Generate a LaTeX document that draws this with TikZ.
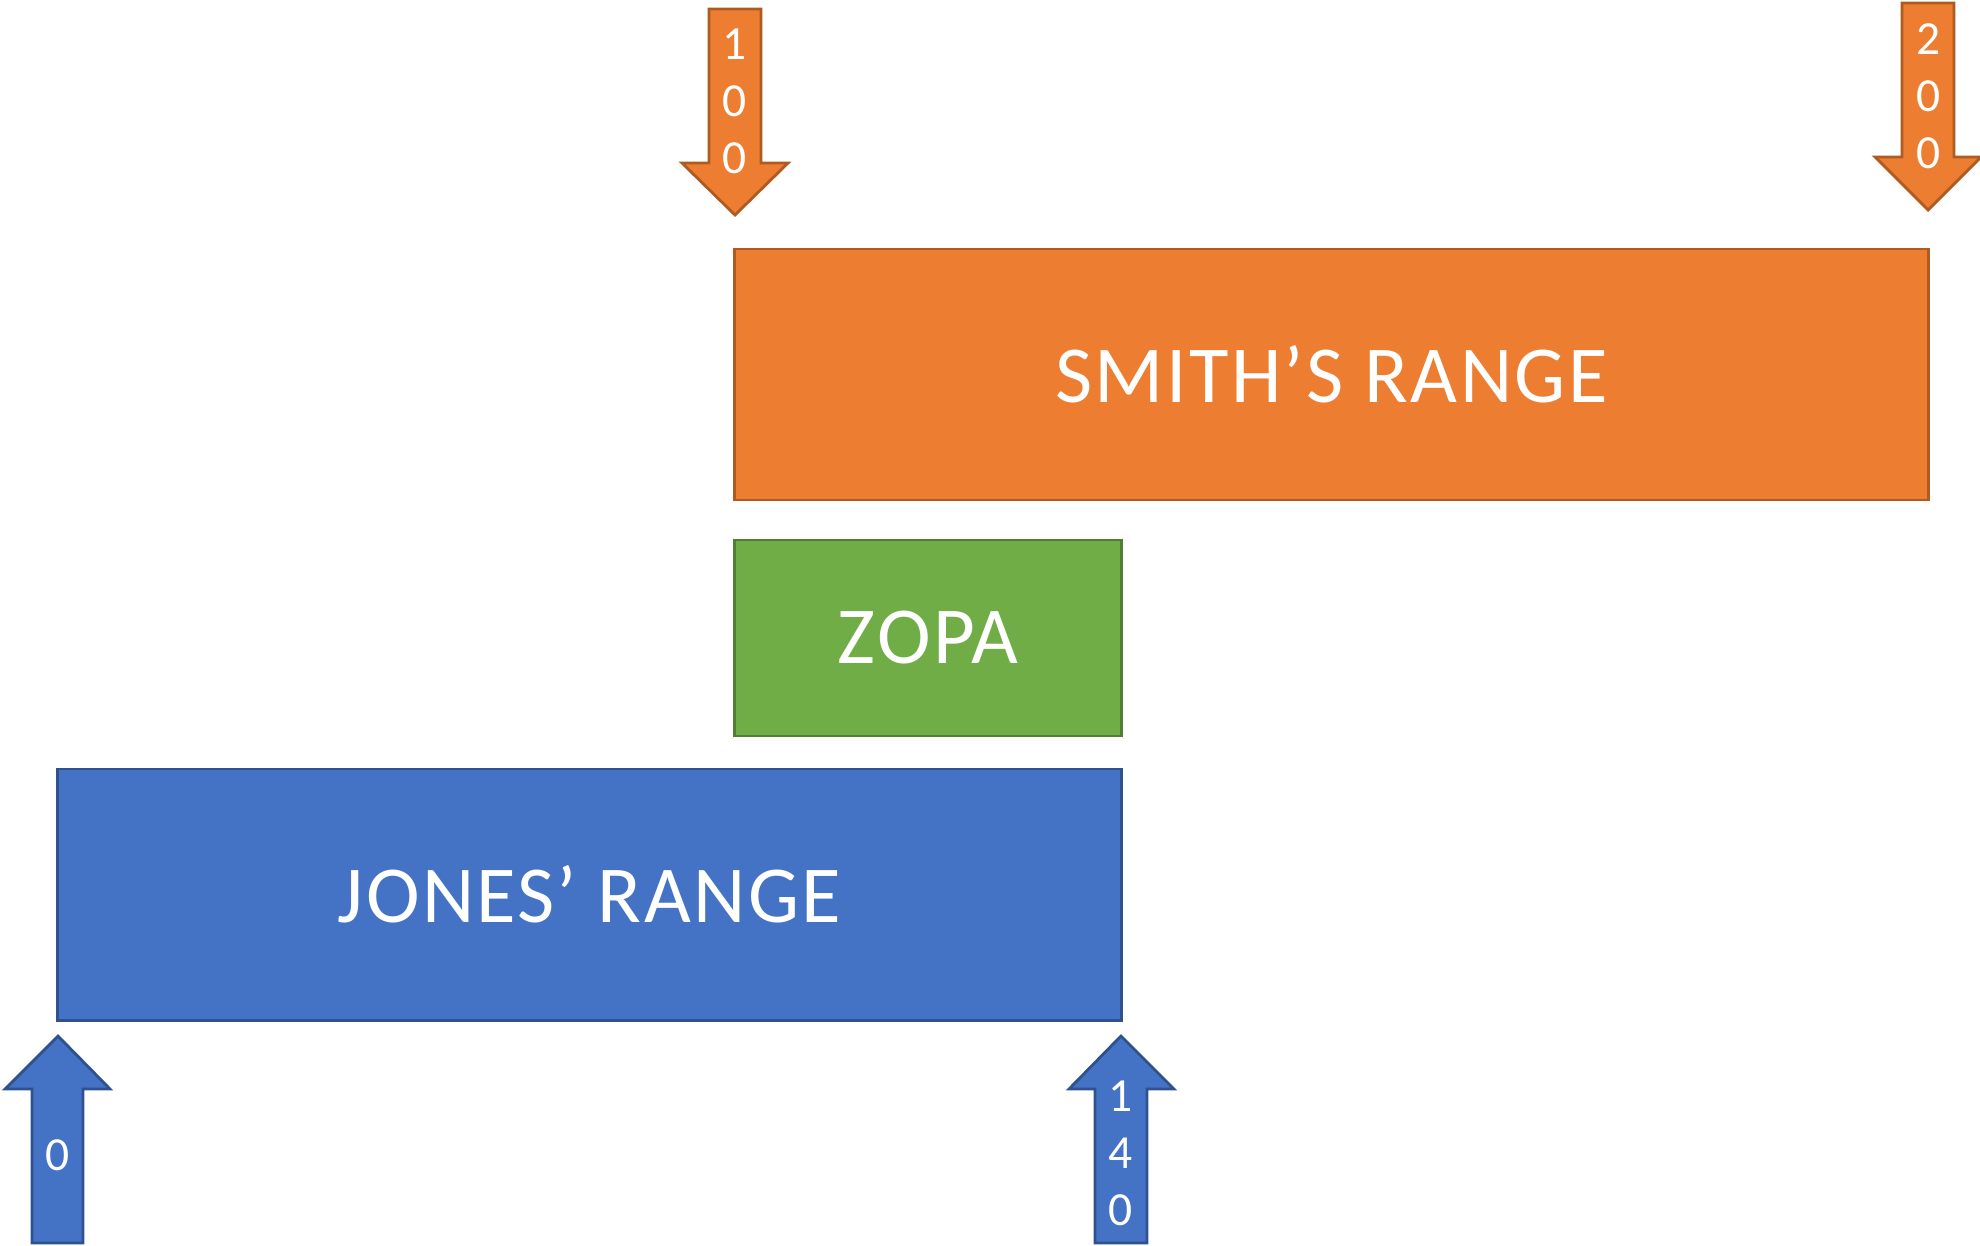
\documentclass[tikz,border=0pt]{standalone}
\usepackage{fontspec}
\setmainfont{Carlito}
\newfontfamily\rangefont[LetterSpace=3]{Carlito}
\usepackage{xcolor}
\usepackage{tikz}
\usetikzlibrary{positioning}
\definecolor{smithfill}{HTML}{ED7D31}
\definecolor{smithline}{HTML}{AE5A21}
\definecolor{zopafill}{HTML}{70AD47}
\definecolor{zopaline}{HTML}{507E32}
\definecolor{jonesfill}{HTML}{4472C4}
\definecolor{jonesline}{HTML}{2F528F}
\tikzstyle{rangebox} = [rectangle, line width=0.8pt, text=white, inner sep=0pt, font=\rangefont\fontsize{23}{27}\selectfont]
\tikzstyle{smithbox} = [rangebox, fill=smithfill, draw=smithline]
\tikzstyle{zopabox} = [rangebox, fill=zopafill, draw=zopaline]
\tikzstyle{jonesbox} = [rangebox, fill=jonesfill, draw=jonesline]
\tikzstyle{smitharrow} = [fill=smithfill, draw=smithline, line width=0.8pt, line join=miter]
\tikzstyle{jonesarrow} = [fill=jonesfill, draw=jonesline, line width=0.8pt, line join=miter]
\tikzstyle{digits} = [text=white, align=center, inner sep=0pt, font=\fontsize{13.5}{16.2}\selectfont]

\begin{document}
\begin{tikzpicture}[x=0.01cm, y=-0.01cm]
\useasboundingbox (0,0) rectangle (1980,1245);

% ranges
\node[smithbox, minimum width=11.93cm, minimum height=2.51cm] (smithrange) at (1331.5,374.5) {SMITH’S RANGE};
\node[zopabox, minimum width=3.86cm, minimum height=1.96cm] (zoparange) at (928,638) {ZOPA};
\node[jonesbox, minimum width=10.63cm, minimum height=2.51cm] (jonesrange) at (589.5,894.5) {JONES’ RANGE};

% Smith's arrows (pointing down)
\draw[smitharrow] (709,9) -- (761,9) -- (761,163) -- (788,163) -- (735,215) -- (682,163) -- (709,163) -- cycle;
\draw[smitharrow] (1902,3) -- (1954,3) -- (1954,157) -- (1981,157) -- (1928,210) -- (1875,157) -- (1902,157) -- cycle;
\node[digits] (smithlow) at (735,101) {1\\0\\0};
\node[digits] (smithhigh) at (1928,96) {2\\0\\0};

% Jones' arrows (pointing up)
\draw[jonesarrow] (32,1243) -- (83,1243) -- (83,1089) -- (110,1089) -- (58,1036) -- (5,1089) -- (32,1089) -- cycle;
\draw[jonesarrow] (1095,1243) -- (1147,1243) -- (1147,1089) -- (1174,1089) -- (1121,1036) -- (1069,1089) -- (1095,1089) -- cycle;
\node[digits] (joneslow) at (58,1155) {0};
\node[digits] (joneshigh) at (1121,1153) {1\\4\\0};

\end{tikzpicture}
\end{document}
